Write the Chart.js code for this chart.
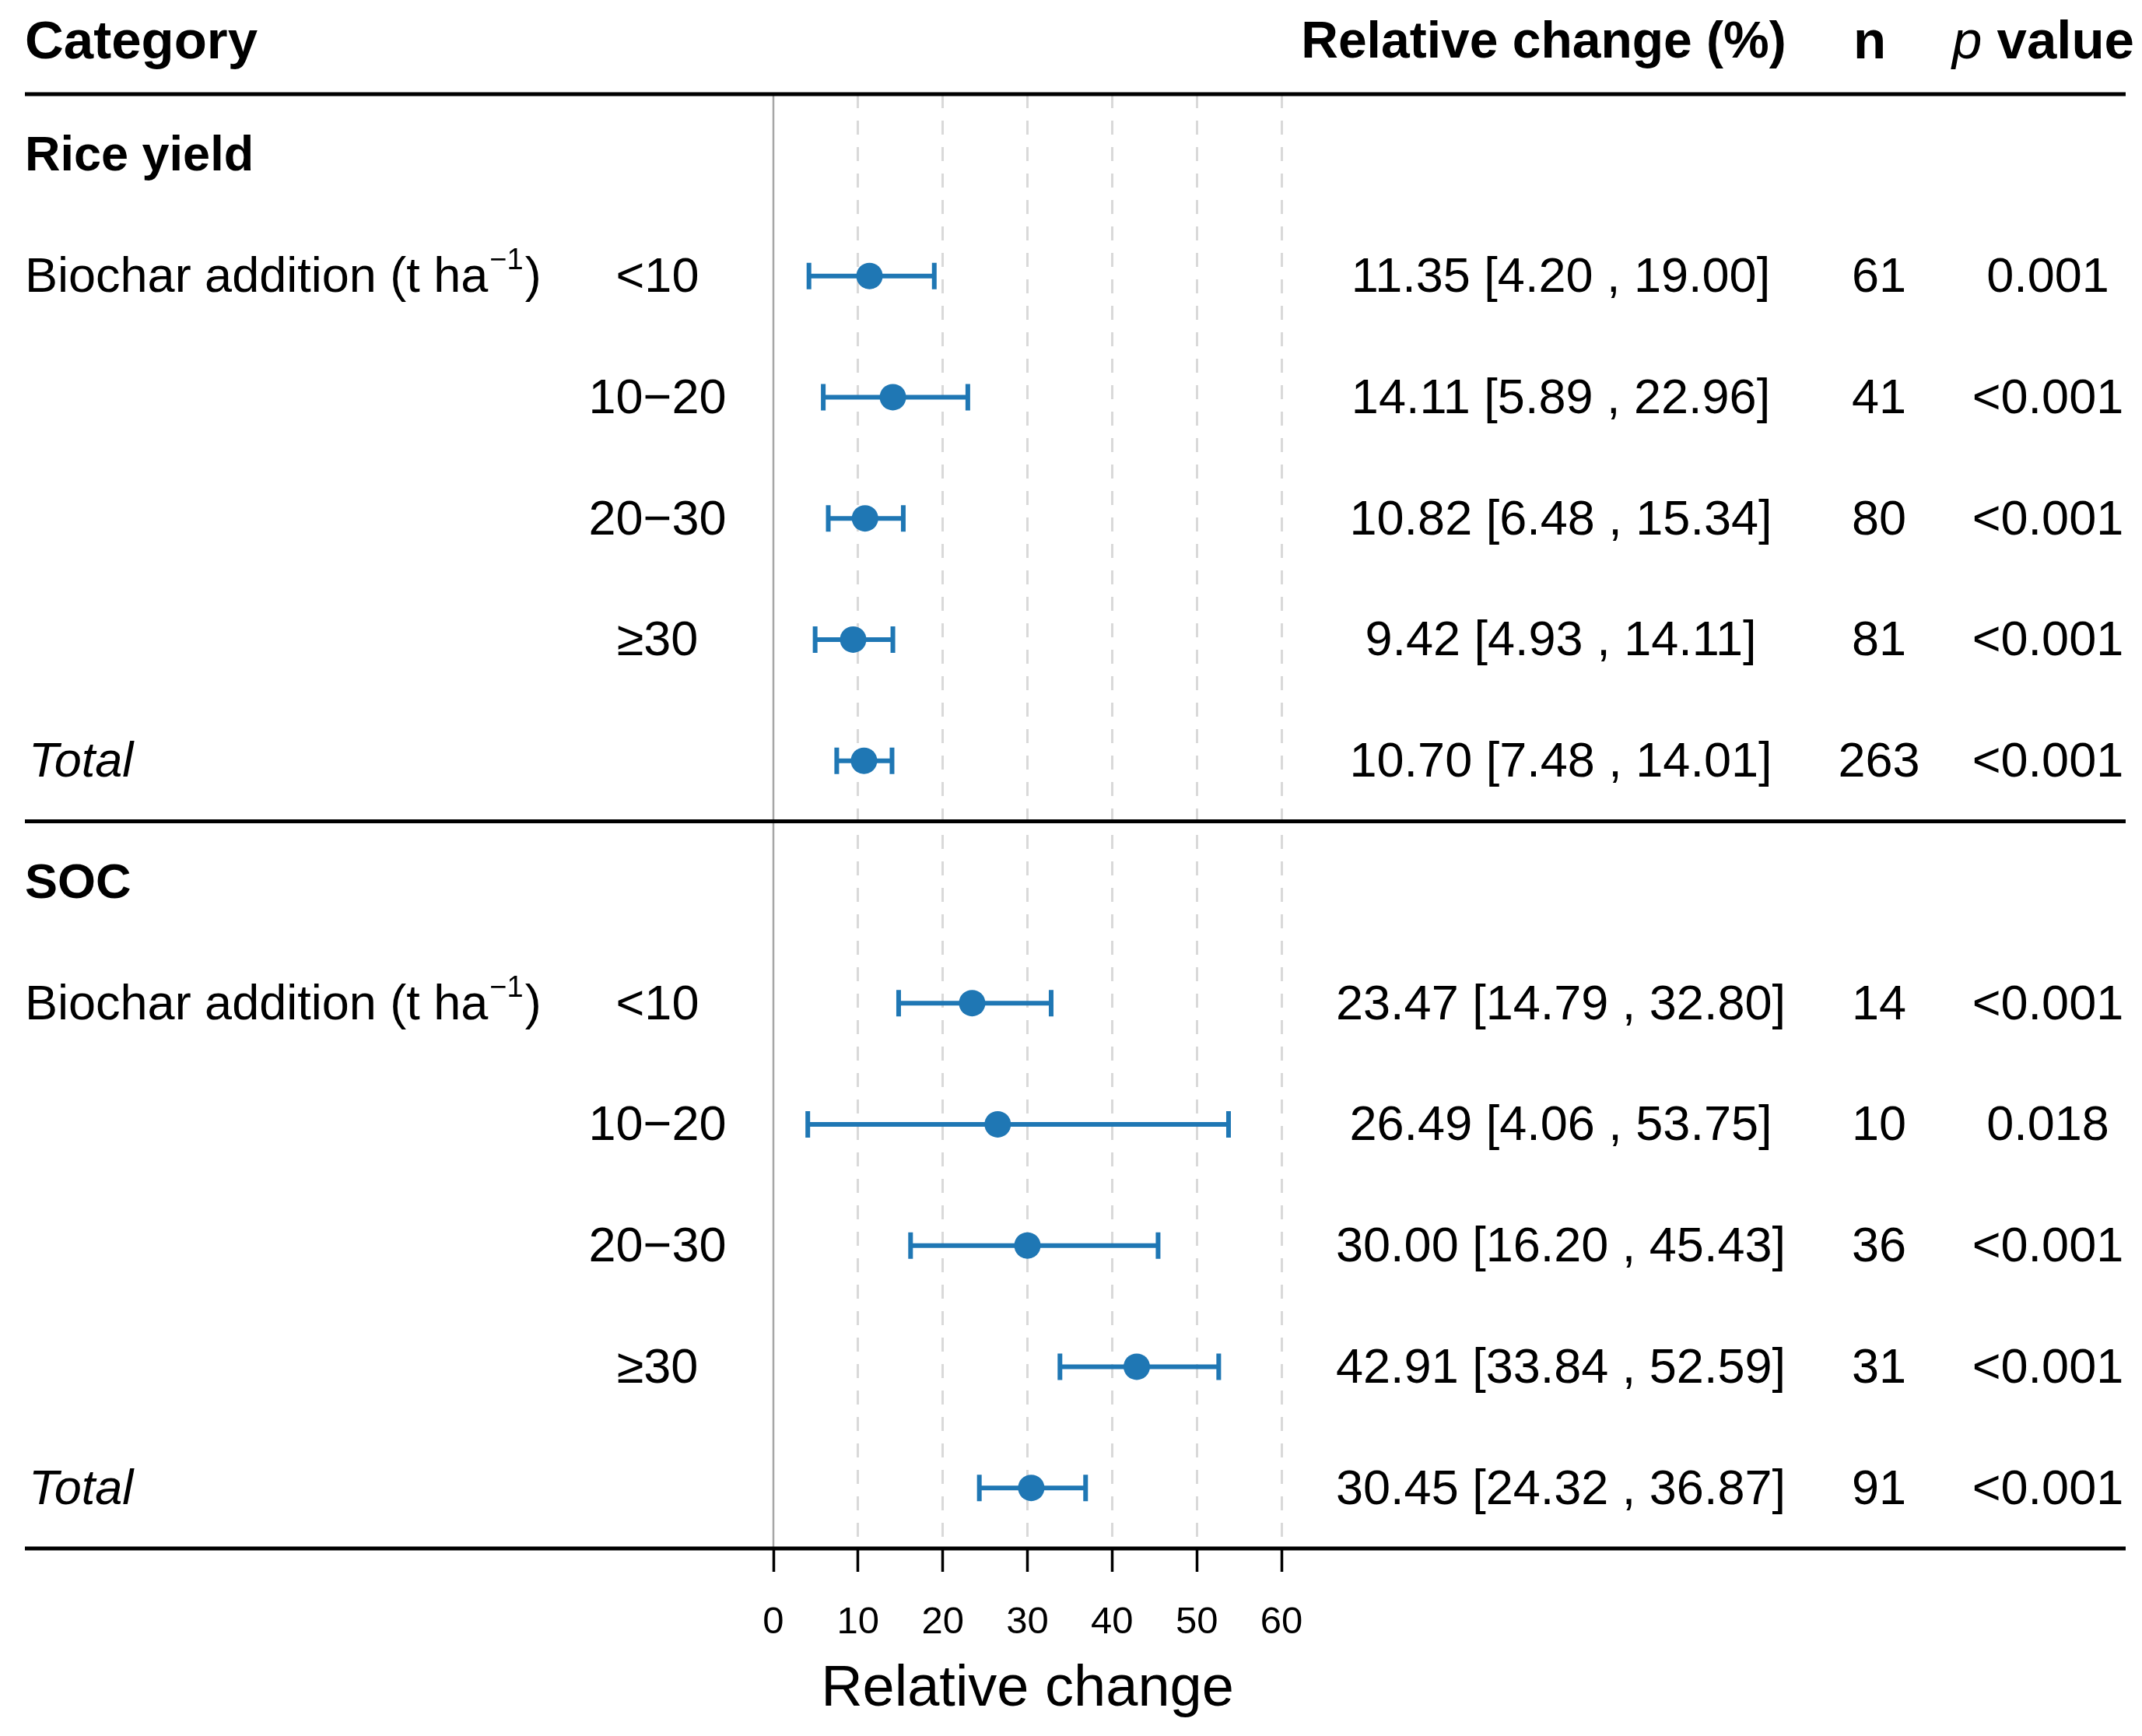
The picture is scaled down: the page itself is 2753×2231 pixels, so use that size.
<!DOCTYPE html>
<html>
<head>
<meta charset="utf-8">
<script src="https://cdn.jsdelivr.net/npm/chart.js@4.4.1/dist/chart.umd.min.js"></script>
<style>
  html, body { margin: 0; padding: 0; background: #fff; }
  #wrap { width: 2753px; height: 2231px; position: relative; }
</style>
</head>
<body>
<div id="wrap"><canvas id="forest"></canvas></div>
<script>
// data
const groups = ['Rice yield', 'SOC'];
const levels = ['<10', '10\u221220', '20\u221230', '\u226530'];

const riceMean = [11.35, 14.11, 10.82, 9.42, 10.70];
const riceLow  = [4.20, 5.89, 6.48, 4.93, 7.48];
const riceHigh = [19.00, 22.96, 15.34, 14.11, 14.01];
const riceN    = [61, 41, 80, 81, 263];
const riceP    = ['0.001', '<0.001', '<0.001', '<0.001', '<0.001'];

const socMean = [23.47, 26.49, 30.00, 42.91, 30.45];
const socLow  = [14.79, 4.06, 16.20, 33.84, 24.32];
const socHigh = [32.80, 53.75, 45.43, 52.59, 36.87];
const socN    = [14, 10, 36, 31, 91];
const socP    = ['<0.001', '0.018', '<0.001', '<0.001', '<0.001'];

const xTicks = [0, 10, 20, 30, 40, 50, 60];

const FONT = "'Liberation Sans', Arial, Helvetica, sans-serif";
const BLUE = '#1F77B4';

// one group = header row + 4 levels + total -> 6 rows
const series = [
  { mean: riceMean, low: riceLow, high: riceHigh, n: riceN, p: riceP },
  { mean: socMean, low: socLow, high: socHigh, n: socN, p: socP }
];

const rows = [];
series.forEach((s, gi) => {
  s.mean.forEach((m, i) => {
    rows.push({ row: gi * 6 + 1 + i, mean: m, low: s.low[i], high: s.high[i], n: s.n[i], p: s.p[i] });
  });
});

const points = rows.map(r => ({ x: r.mean, y: r.row }));

function fmt(v) { return v.toFixed(2); }

const forestText = {
  id: 'forestText',
  beforeDatasetsDraw(chart) {
    const ctx = chart.ctx;
    const xs = chart.scales.x, ys = chart.scales.y;
    const area = chart.chartArea;
    ctx.save();
    // zero reference line
    ctx.strokeStyle = '#a6a6a6';
    ctx.lineWidth = 2.5;
    ctx.beginPath();
    ctx.moveTo(xs.getPixelForValue(0), area.top);
    ctx.lineTo(xs.getPixelForValue(0), area.bottom);
    ctx.stroke();
    // error bars
    ctx.strokeStyle = BLUE;
    ctx.lineWidth = 6;
    rows.forEach(r => {
      const y = ys.getPixelForValue(r.row);
      const x1 = xs.getPixelForValue(r.low), x2 = xs.getPixelForValue(r.high);
      ctx.beginPath();
      ctx.moveTo(x1, y); ctx.lineTo(x2, y);
      ctx.moveTo(x1, y - 17); ctx.lineTo(x1, y + 17);
      ctx.moveTo(x2, y - 17); ctx.lineTo(x2, y + 17);
      ctx.stroke();
    });
    ctx.restore();
  },
  afterDraw(chart) {
    const ctx = chart.ctx;
    const ys = chart.scales.y;
    const area = chart.chartArea;
    const left = 32, right = 2732;
    ctx.save();

    // horizontal rules
    ctx.strokeStyle = '#000';
    ctx.lineWidth = 5;
    [area.top, ys.getPixelForValue(5.5), area.bottom].forEach(y => {
      ctx.beginPath();
      ctx.moveTo(left, y); ctx.lineTo(right, y);
      ctx.stroke();
    });

    ctx.fillStyle = '#000';
    ctx.textBaseline = 'middle';

    // column headers
    const hy = ys.getPixelForValue(-0.92);
    ctx.font = 'bold 69px ' + FONT;
    ctx.textAlign = 'left';
    ctx.fillText('Category', left, hy);
    ctx.font = 'bold 66px ' + FONT;
    ctx.textAlign = 'center';
    ctx.fillText('Relative change (%)', 1984, hy);
    ctx.font = 'bold 69px ' + FONT;
    ctx.fillText('n', 2403, hy);
    // "p value" with italic p
    ctx.textAlign = 'left';
    ctx.font = 'italic 69px ' + FONT;
    const wp = ctx.measureText('p').width;
    ctx.font = 'bold 69px ' + FONT;
    const wv = ctx.measureText(' value').width;
    const px0 = 2626 - (wp + wv) / 2;
    ctx.font = 'italic 69px ' + FONT;
    ctx.fillText('p', px0, hy);
    ctx.font = 'bold 69px ' + FONT;
    ctx.fillText(' value', px0 + wp, hy);

    const yOff = 3;
    groups.forEach((g, gi) => {
      const base = gi * 6;
      // group title
      ctx.textAlign = 'left';
      ctx.font = 'bold 63px ' + FONT;
      ctx.fillText(g, left, ys.getPixelForValue(base) + yOff);

      // "Biochar addition (t ha^-1)"
      const by = ys.getPixelForValue(base + 1) + yOff;
      ctx.font = '63px ' + FONT;
      const part1 = 'Biochar addition (t ha';
      ctx.fillText(part1, left, by);
      let bx = left + ctx.measureText(part1).width + 2;
      ctx.font = '38px ' + FONT;
      ctx.fillText('\u22121', bx, by - 22);
      bx += ctx.measureText('\u22121').width + 2;
      ctx.font = '63px ' + FONT;
      ctx.fillText(')', bx, by);

      // level labels
      ctx.textAlign = 'center';
      levels.forEach((lv, i) => {
        ctx.fillText(lv, 845, ys.getPixelForValue(base + 1 + i) + yOff);
      });

      // total
      ctx.textAlign = 'left';
      ctx.font = 'italic 63px ' + FONT;
      ctx.fillText('Total', 37, ys.getPixelForValue(base + 5) + yOff);
    });

    // estimates, n and p columns
    ctx.font = '63px ' + FONT;
    ctx.textAlign = 'center';
    rows.forEach(r => {
      const y = ys.getPixelForValue(r.row) + yOff;
      ctx.fillText(fmt(r.mean) + ' [' + fmt(r.low) + ' , ' + fmt(r.high) + ']', 2006, y);
      ctx.fillText(String(r.n), 2415, y);
      ctx.fillText(r.p, 2632, y);
    });

    ctx.restore();
  }
};

const ctx = document.getElementById('forest').getContext('2d');
const forestChart = new Chart(ctx, {
  type: 'scatter',
  data: {
    datasets: [{
      data: points,
      backgroundColor: BLUE,
      borderColor: BLUE,
      pointRadius: 17,
      pointHoverRadius: 17,
      borderWidth: 0
    }]
  },
  options: {
    responsive: true,
    maintainAspectRatio: false,
    devicePixelRatio: 1,
    animation: false,
    events: [],
    layout: { padding: { left: 994, right: 1106, top: 121, bottom: 0 } },
    plugins: { legend: { display: false }, tooltip: { enabled: false } },
    scales: {
      x: {
        type: 'linear',
        position: 'bottom',
        min: xTicks[0],
        max: xTicks[xTicks.length - 1],
        afterBuildTicks: scale => { scale.ticks = xTicks.map(v => ({ value: v })); },
        afterFit: scale => { scale.height = 241; },
        ticks: {
          color: '#000',
          font: { family: FONT, size: 49 },
          padding: 36,
          maxRotation: 0,
          autoSkip: false
        },
        grid: {
          color: c => (c.tick && c.tick.value === 0) ? 'rgba(0,0,0,0)' : '#d9d9d9',
          lineWidth: 3,
          borderDash: [18, 16],
          tickColor: '#000',
          tickLength: 30,
          tickWidth: 3.5,
          tickBorderDash: []
        },
        border: { display: false, dash: [18, 16] },
        title: {
          display: true,
          text: 'Relative change',
          color: '#000',
          font: { family: FONT, size: 74 },
          padding: { top: 0, bottom: 15 }
        }
      },
      y: {
        type: 'linear',
        display: false,
        reverse: true,
        min: -0.5,
        max: 11.5
      }
    }
  },
  plugins: [forestText]
});
</script>
</body>
</html>
